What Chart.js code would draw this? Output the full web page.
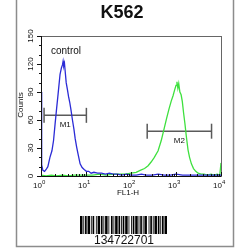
<!DOCTYPE html>
<html>
<head>
<meta charset="utf-8">
<script src="https://cdn.jsdelivr.net/npm/chart.js@4.4.1/dist/chart.umd.min.js"></script>
<style>
body{margin:0;background:#fff}
</style>
</head>
<body>
<canvas id="histo" width="250" height="250"></canvas>
<script>
// control histogram (blue)
const controlFL1 = [1.0,1.02,1.05,1.1,1.2,1.3,1.42,1.58,1.75,1.9,2.05,2.23,2.4,2.65,2.85,3.0,3.1,3.2,3.32,3.45,3.63,3.85,4.1,4.35,4.6,5.0,5.4,5.75,6.2,6.7,7.4,8.2,9.1,10.2,11.5,13,15,18,22,27,33,40,50,62,80,100,130,170,220,300,400,550,750,1000,1400,2000,2800,4000,5600,8000,10000];
const controlCounts = [90,45,12,6,5,7,10,20,27,38,55,73,88,109,116,119,123,118,121,112,100,93,85,79,72,60,50,40,31,23,13,9,7,5,5,3,4,3,3,2,3,2,2,1,2,1,1,2,1,1,2,1,1,2,1,1,1,1,1,1,1];
// K562 sample histogram (green)
const sampleFL1 = [1.0,1.3,1.7,2.2,3,4,5.5,7.5,10,14,20,28,40,55,75,100,130,160,200,240,280,330,400,470,540,620,700,780,860,930,1000,1050,1100,1150,1220,1300,1380,1470,1580,1700,1850,2000,2200,2450,2750,3100,3600,4200,5000,6000,7000,8200,9400,10000];
const sampleCounts = [1,0,1,0,1,0,1,1,1,1,2,1,2,2,2,3,4,6,8,11,15,20,27,38,50,62,72,80,86,92,97,101,94,99,90,87,80,68,56,42,28,20,13,8,5,3,2,2,1,2,1,2,1,14];

const xTicks = [1,10,100,1000,10000];
const xTickExp = ['0','1','2','3','4'];
const yTicks = [0,30,60,90,120,150];

// gate markers
const gateNames = ['M1','M2'];
const gateFrom = [1.17,229];
const gateTo = [10.2,6166];
const gateLevel = [65,48];

const barcodeText = '134722701';
const barcodeBars = [3,1,1,1,2,1,3,1,1,1,2,2,1,1,3,1,2,1,1,1,3,1,1,2,2,1,1,1,3,1,2,1,1,1,2,1,3,1,1,2,1,1,2,1,3,1,1,1,2,1,1,1,3,2,1,1,2,1,1,1,3,1,2,1,1,1,2,1,3];

const pts = (xs, ys) => xs.map((x, i) => ({x: x, y: ys[i]}));
const FONT = '"Liberation Sans", Arial, sans-serif';

const gateSets = gateNames.map((n, i) => ({
	label: n,
	data: [{x: gateFrom[i], y: gateLevel[i]}, {x: gateTo[i], y: gateLevel[i]}],
	showLine: true,
	borderColor: '#5a5a5a',
	borderWidth: 1.5,
	pointStyle: 'line',
	pointRotation: 90,
	pointRadius: 7.5,
	pointBorderColor: '#5a5a5a',
	pointBorderWidth: 1.5
}));

const decor = {
	id: 'decor',
	afterDraw(chart) {
		const ctx = chart.ctx;
		const xs = chart.scales.x, ys = chart.scales.y;
		const a = chart.chartArea;
		ctx.save();

		// outer frame
		ctx.strokeStyle = '#8c8c8c';
		ctx.lineWidth = 1.5;
		ctx.beginPath();
		ctx.moveTo(16.5, 0); ctx.lineTo(16.5, 246.5); ctx.lineTo(233.5, 246.5); ctx.lineTo(233.5, 0);
		ctx.stroke();

		// plot box
		ctx.strokeStyle = '#666';
		ctx.lineWidth = 1;
		ctx.strokeRect(a.left + 0.5, a.top + 0.5, a.right - a.left, a.bottom - a.top);
		ctx.strokeStyle = '#111';
		ctx.beginPath();
		ctx.moveTo(a.left + 0.5, a.top); ctx.lineTo(a.left + 0.5, a.bottom + 0.5); ctx.lineTo(a.right, a.bottom + 0.5);
		ctx.stroke();

		// y ticks
		for (let v = 0; v <= 150; v += 10) {
			const y = Math.round(ys.getPixelForValue(v)) + 0.5;
			const len = v % 30 === 0 ? 4 : 2;
			ctx.beginPath(); ctx.moveTo(a.left - len, y); ctx.lineTo(a.left, y); ctx.stroke();
		}
		ctx.fillStyle = '#111';
		ctx.font = '8px ' + FONT;
		ctx.textAlign = 'center';
		ctx.textBaseline = 'middle';
		yTicks.forEach(v => {
			ctx.save();
			ctx.translate(31, ys.getPixelForValue(v));
			ctx.rotate(-Math.PI / 2);
			ctx.fillText(String(v), 0, 0);
			ctx.restore();
		});
		ctx.save();
		ctx.translate(21, 105);
		ctx.rotate(-Math.PI / 2);
		ctx.fillText('Counts', 0, 0);
		ctx.restore();

		// x ticks (log)
		for (let d = 1; d <= 1000; d *= 10) {
			for (let m = 1; m <= 10; m++) {
				const x = Math.round(xs.getPixelForValue(d * m)) + 0.5;
				const len = (m === 1 || m === 10) ? 4 : 2;
				ctx.beginPath(); ctx.moveTo(x, a.bottom); ctx.lineTo(x, a.bottom - len); ctx.stroke();
			}
		}
		ctx.textBaseline = 'alphabetic';
		xTicks.forEach((v, i) => {
			const x = xs.getPixelForValue(v);
			ctx.font = '8px ' + FONT;
			ctx.textAlign = 'right';
			ctx.fillText('10', x + 1, 188);
			ctx.font = '6px ' + FONT;
			ctx.textAlign = 'left';
			ctx.fillText(xTickExp[i], x + 1, 184);
		});
		ctx.font = '8px ' + FONT;
		ctx.textAlign = 'center';
		ctx.fillText('FL1-H', 128, 195);

		// gate labels
		gateNames.forEach((n, i) => {
			const x = (xs.getPixelForValue(gateFrom[i]) + xs.getPixelForValue(gateTo[i])) / 2;
			ctx.fillText(n, x, ys.getPixelForValue(gateLevel[i]) + 12);
		});

		// control label
		ctx.font = '10px ' + FONT;
		ctx.fillText('control', 66, 54);

		// title
		ctx.font = 'bold 18px ' + FONT;
		ctx.fillText('K562', 122, 18);

		// barcode
		const total = barcodeBars.reduce((s, w) => s + w, 0);
		const unit = 87 / total;
		let bx = 80;
		ctx.fillStyle = '#000';
		barcodeBars.forEach((w, i) => {
			if (i % 2 === 0) ctx.fillRect(bx, 216, w * unit, 18);
			bx += w * unit;
		});
		ctx.font = '12px ' + FONT;
		ctx.fillStyle = '#111';
		ctx.fillText(barcodeText, 124, 244);

		ctx.restore();
	}
};

new Chart(document.getElementById('histo'), {
	type: 'scatter',
	data: {
		datasets: [
			{
				label: 'control',
				data: pts(controlFL1, controlCounts),
				showLine: true,
				borderColor: '#2b2bd6',
				borderWidth: 1.3,
				pointRadius: 0
			},
			{
				label: 'K562',
				data: pts(sampleFL1, sampleCounts),
				showLine: true,
				borderColor: '#3ee03e',
				borderWidth: 1.3,
				pointRadius: 0
			}
		].concat(gateSets)
	},
	options: {
		responsive: false,
		animation: false,
		devicePixelRatio: 1,
		layout: {padding: {left: 41, right: 29, top: 36, bottom: 74}},
		scales: {
			x: {type: 'logarithmic', min: 1, max: 10000, display: false},
			y: {min: 0, max: 150, display: false}
		},
		plugins: {
			legend: {display: false},
			tooltip: {enabled: false}
		}
	},
	plugins: [decor]
});
</script>
</body>
</html>
